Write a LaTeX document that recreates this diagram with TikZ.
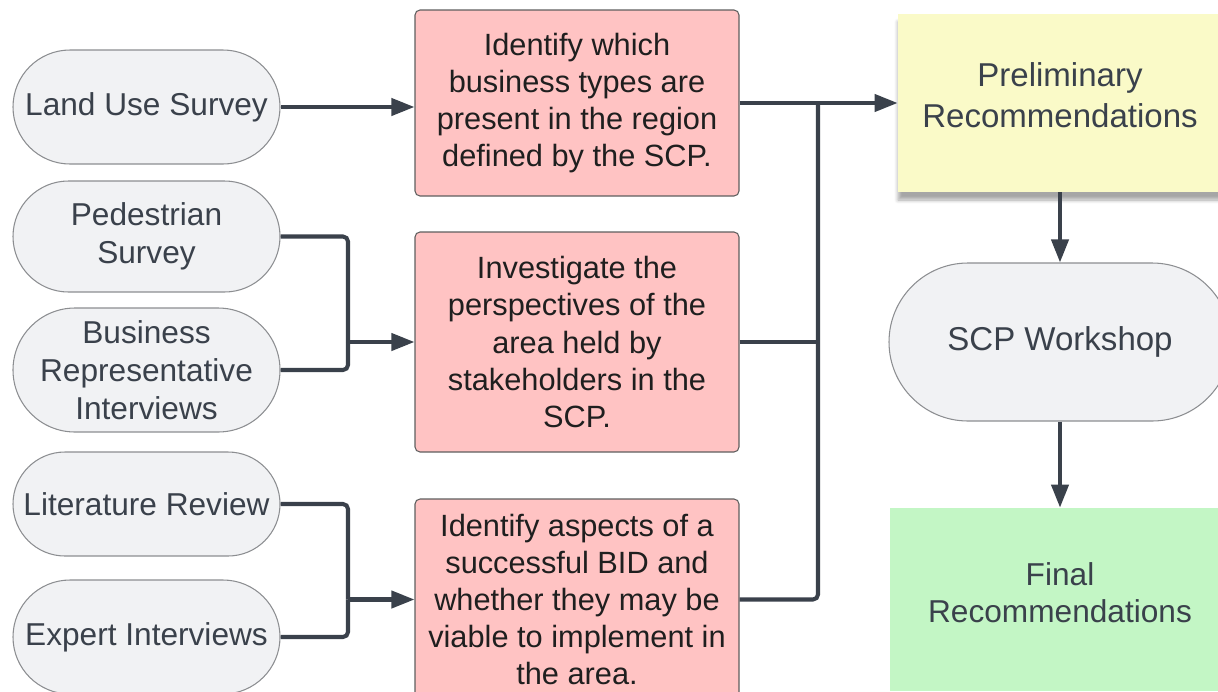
\documentclass[tikz,border=0pt]{standalone}
\usepackage{fontspec}
\setmainfont{Liberation Sans}
\usepackage{tikz}
\usetikzlibrary{arrows.meta,shadows.blur}

\definecolor{linegray}{HTML}{3A414B}
\definecolor{textgray}{HTML}{3A414B}
\definecolor{pillfill}{HTML}{F1F2F4}
\definecolor{pilledge}{HTML}{8C8E91}
\definecolor{taskfill}{HTML}{FFC3C3}
\definecolor{taskedge}{HTML}{5F5F5F}
\definecolor{prefill}{HTML}{FAFAC8}
\definecolor{finfill}{HTML}{C3F6C5}

\tikzset{
  pill/.style={draw=pilledge, fill=pillfill, line width=0.6pt, text=textgray, align=center, minimum width=5.34cm, font=\fontsize{18}{21.6}\selectfont},
  task/.style={draw=taskedge, fill=taskfill, line width=0.6pt, rounded corners=0.1cm, text=black!88, align=center, minimum width=6.48cm, font=\fontsize{17.5}{21.1}\selectfont},
  result/.style={text=textgray, align=center, minimum width=6.8cm, font=\fontsize{18.8}{23.3}\selectfont},
  link/.style={draw=linegray, line width=2.3pt, rounded corners=0.1cm},
  flow/.style={link, -{Triangle[length=0.46cm,width=0.34cm]}}
}

\begin{document}
\begin{tikzpicture}

\clip (0cm,0cm) rectangle (24.36cm,-13.82cm);

\node [pill, minimum height=2.28cm, rounded corners=1.14cm] (lus) at (2.93cm,-2.14cm) {Land Use Survey};
\node [pill, minimum height=2.22cm, rounded corners=1.11cm] (ped) at (2.93cm,-4.73cm) {Pedestrian\\Survey};
\node [pill, minimum height=2.48cm, rounded corners=1.24cm] (bus) at (2.93cm,-7.40cm) {Business\\Representative\\Interviews};
\node [pill, minimum height=2.08cm, rounded corners=1.04cm] (lit) at (2.93cm,-10.08cm) {Literature Review};
\node [pill, minimum height=2.28cm, rounded corners=1.14cm] (exp) at (2.93cm,-12.74cm) {Expert Interviews};

\node [task, minimum height=3.72cm] (idb) at (11.54cm,-2.06cm) {Identify which\\business types are\\present in the region\\defined by the SCP.};
\node [task, minimum height=4.40cm] (inv) at (11.54cm,-6.84cm) {Investigate the\\perspectives of the\\area held by\\stakeholders in the\\SCP.};
\node [task, minimum height=4.02cm] (asp) at (11.54cm,-11.99cm) {Identify aspects of a\\successful BID and\\whether they may be\\viable to implement in\\the area.};

\node [result, fill=prefill, minimum width=6.48cm, minimum height=3.56cm, text depth=0.32cm, blur shadow={shadow xshift=0cm, shadow yshift=-0.16cm, shadow blur steps=6, shadow opacity=35}] (pre) at (21.2cm,-2.06cm) {Preliminary\\Recommendations};
\node [pill, result, minimum width=6.84cm, minimum height=3.16cm, rounded corners=1.58cm] (wsh) at (21.2cm,-6.84cm) {SCP Workshop};
\node [result, fill=finfill, minimum height=3.66cm, text depth=0.28cm, font=\fontsize{18}{21.4}\selectfont] (fin) at (21.2cm,-11.99cm) {Final\\Recommendations};

\coordinate (jl) at (6.96cm,0cm);
\coordinate (jr) at (16.36cm,0cm);

\draw [flow] (lus.east) -- (lus.east -| idb.west);
\draw [link] (ped.east) -- (ped.east -| jl) -- (inv.west -| jl);
\draw [link] (bus.east) -- (bus.east -| jl) -- (inv.west -| jl);
\draw [flow] (inv.west -| jl) -- (inv.west);
\draw [link] (lit.east) -- (lit.east -| jl) -- (asp.west -| jl);
\draw [link] (exp.east) -- (exp.east -| jl) -- (asp.west -| jl);
\draw [flow] (asp.west -| jl) -- (asp.west);

\draw [link] (inv.east) -- (inv.east -| jr);
\draw [link] (asp.east) -- (asp.east -| jr) -- (idb.east -| jr);
\draw [flow] (idb.east) -- (pre.west);

\draw [flow] (pre) -- (wsh);
\draw [flow] (wsh) -- (fin);

\end{tikzpicture}
\end{document}
